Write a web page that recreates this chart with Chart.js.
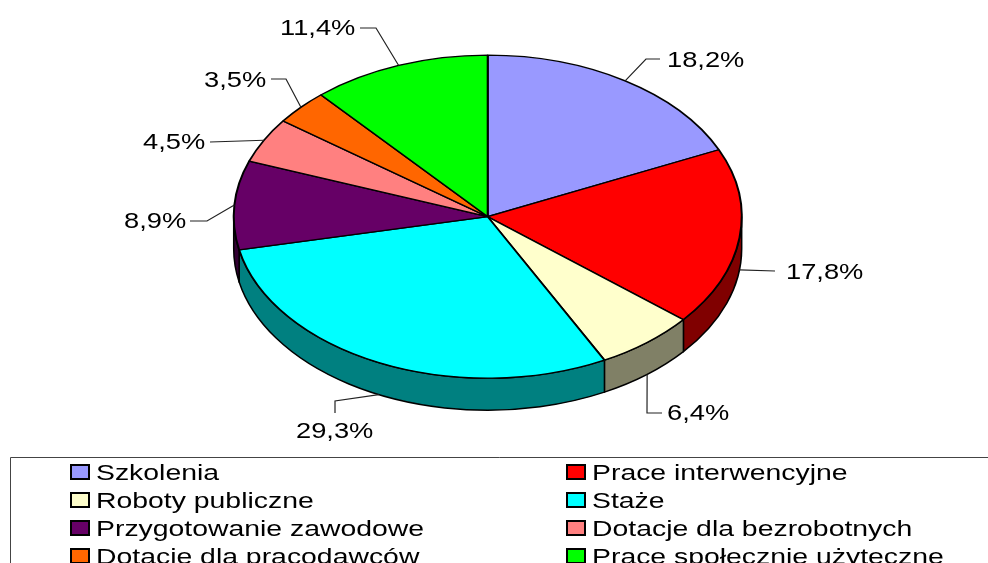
<!DOCTYPE html>
<html>
<head>
<meta charset="utf-8">
<style>
  html, body { margin: 0; padding: 0; background: #fff; overflow: hidden; }
  canvas { display: block; }
</style>
<script src="https://cdn.jsdelivr.net/npm/chart.js@4"></script>
</head>
<body>
<canvas id="myChart" width="988" height="563"></canvas>
<script>
// Chart data
const categories = ['Szkolenia', 'Prace interwencyjne', 'Roboty publiczne', 'Staże',
    'Przygotowanie zawodowe', 'Dotacje dla bezrobotnych', 'Dotacje dla pracodawców', 'Prace społecznie użyteczne'];
const shares = [18.2, 17.8, 6.4, 29.3, 8.9, 4.5, 3.5, 11.4];

// Slice colours, and the darker ones for the side wall
const sliceColors = ['#9999ff', '#ff0000', '#ffffcc', '#00ffff', '#660066', '#ff8080', '#ff6600', '#00ff00'];
const wallColors = ['#4c4c80', '#800000', '#808066', '#008080', '#330033', '#804040', '#803300', '#008000'];

// Where the squashed pie goes on the page
const pie = { x: 487.7, y: 216.7, rx: 254, ry: 161.5, depth: 32 };

// Text of the original is wider than it is tall
const labelFont = { px: 22, stretch: 1.24 };
const legendFont = { px: 22, stretch: 1.29 };

// Label left edge and baseline, then the bend(s) of the leader line
const labelPos = [[667, 67], [786, 279], [667, 420], [296, 438], [124, 228], [143, 149], [204, 87], [280, 35]];
const leaderBends = [
    [[646, 59], [660, 59]],
    [[775, 271]],
    [[647, 413], [662, 413]],
    [[335, 401], [335, 413]],
    [[207, 221], [190, 221]],
    [[210, 142]],
    [[286, 79], [271, 79]],
    [[376, 28], [360, 28]]
];

function stretchedText(ctx, text, x, y, font) {
    ctx.save();
    ctx.translate(x, y);
    ctx.scale(font.stretch, 1);
    ctx.font = font.px + 'px "Liberation Sans"';
    ctx.fillText(text, 0, 0);
    ctx.restore();
}

// Squash the pie into an ellipse and draw the wall underneath it
const tiltPlugin = {
    id: 'tilt',
    beforeDatasetsDraw(chart) {
        const ctx = chart.ctx;
        const arcs = chart.getDatasetMeta(0).data;

        ctx.save();
        ctx.lineWidth = 1.5;
        ctx.strokeStyle = '#000';
        ctx.lineJoin = 'round';
        arcs.forEach((arc, i) => {
            // only the front half of the rim can be seen
            const from = Math.max(arc.startAngle, 0);
            const to = Math.min(arc.endAngle, Math.PI);
            if (to <= from) return;
            ctx.beginPath();
            ctx.ellipse(pie.x, pie.y, pie.rx, pie.ry, 0, from, to);
            ctx.ellipse(pie.x, pie.y + pie.depth, pie.rx, pie.ry, 0, to, from, true);
            ctx.closePath();
            ctx.fillStyle = wallColors[i];
            ctx.fill();
            ctx.stroke();
        });
        ctx.restore();

        const first = arcs[0];
        ctx.save();
        ctx.translate(pie.x, pie.y);
        ctx.scale(pie.rx / first.outerRadius, pie.ry / first.outerRadius);
        ctx.translate(-first.x, -first.y);
    },
    afterDatasetsDraw(chart) {
        chart.ctx.restore();
    }
};

// Percent labels with their leader lines
const labelPlugin = {
    id: 'sliceLabels',
    afterDraw(chart) {
        const ctx = chart.ctx;
        const arcs = chart.getDatasetMeta(0).data;
        ctx.save();
        ctx.fillStyle = '#000';
        ctx.strokeStyle = '#222';
        ctx.lineWidth = 1.2;
        arcs.forEach((arc, i) => {
            const mid = (arc.startAngle + arc.endAngle) / 2;
            const onFront = mid > 0 && mid < Math.PI;
            ctx.beginPath();
            ctx.moveTo(pie.x + pie.rx * Math.cos(mid),
                pie.y + pie.ry * Math.sin(mid) + (onFront ? pie.depth : 0));
            leaderBends[i].forEach(p => ctx.lineTo(p[0], p[1]));
            ctx.stroke();
            const text = shares[i].toFixed(1).replace('.', ',') + '%';
            stretchedText(ctx, text, labelPos[i][0], labelPos[i][1], labelFont);
        });
        ctx.restore();
    }
};

// Legend box, runs off the right and bottom of the picture like the original
const legendPlugin = {
    id: 'boxLegend',
    afterDraw(chart) {
        const ctx = chart.ctx;
        ctx.save();
        ctx.strokeStyle = '#444';
        ctx.lineWidth = 1;
        ctx.beginPath();
        ctx.moveTo(10.5, 563);
        ctx.lineTo(10.5, 457.5);
        ctx.lineTo(988, 457.5);
        ctx.stroke();

        categories.forEach((name, i) => {
            const col = i % 2;
            const row = Math.floor(i / 2);
            const boxX = col ? 567 : 71;
            const top = 465 + row * 28;
            ctx.fillStyle = sliceColors[i];
            ctx.strokeStyle = '#000';
            ctx.lineWidth = 2;
            ctx.fillRect(boxX, top, 18, 14);
            ctx.strokeRect(boxX, top, 18, 14);
            ctx.fillStyle = '#000';
            stretchedText(ctx, name, boxX + 25, top + 15, legendFont);
        });
        ctx.restore();
    }
};

// Create chart
const myChart = new Chart(document.getElementById('myChart').getContext('2d'), {
    type: 'pie',
    data: {
        labels: categories,
        datasets: [{
            data: shares,
            backgroundColor: sliceColors,
            borderColor: '#000',
            borderWidth: 2
        }]
    },
    options: {
        responsive: false,
        animation: false,
        layout: { padding: { left: 233, right: 247, top: 0, bottom: 55 } },
        plugins: {
            legend: { display: false },
            tooltip: { enabled: false }
        }
    },
    plugins: [tiltPlugin, labelPlugin, legendPlugin]
});
</script>
</body>
</html>
